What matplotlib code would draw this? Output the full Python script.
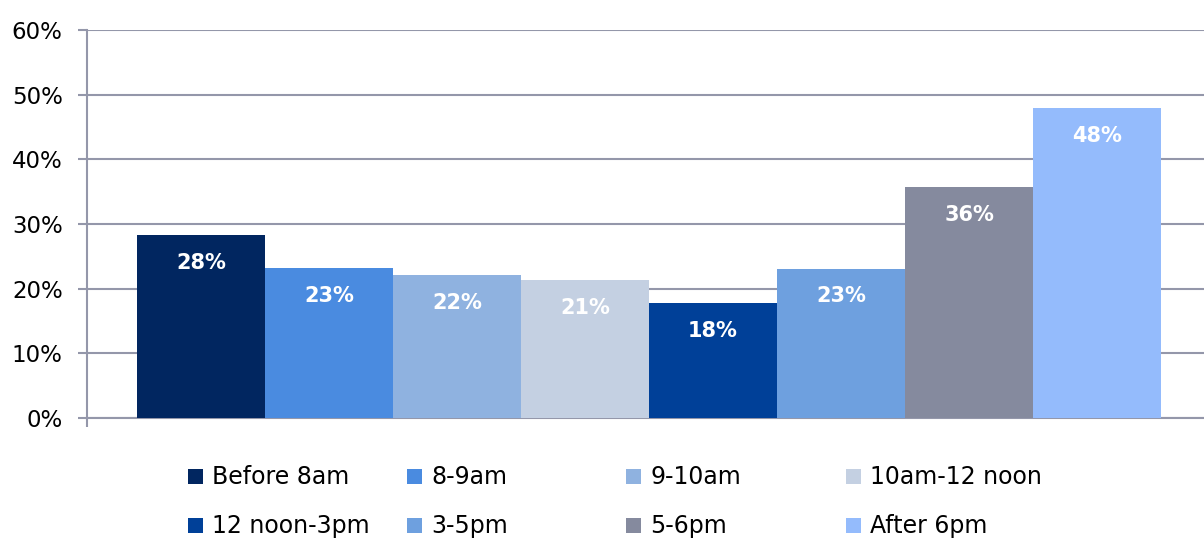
import matplotlib
matplotlib.use("Agg")
import matplotlib.pyplot as plt
from matplotlib.lines import Line2D
import numpy as np

categories = ["Before 8am", "8-9am", "9-10am", "10am-12 noon",
              "12 noon-3pm", "3-5pm", "5-6pm", "After 6pm"]
values = [28.3, 23.2, 22.1, 21.3, 17.8, 23.1, 35.7, 47.9]
labels = ["28%", "23%", "22%", "21%", "18%", "23%", "36%", "48%"]
colors = ["#012660", "#4A8BE0", "#8FB2E0", "#C4D0E2",
          "#004098", "#6EA0DF", "#858A9E", "#94BBFC"]
yticks = [0, 10, 20, 30, 40, 50, 60]
ytick_labels = ["0%", "10%", "20%", "30%", "40%", "50%", "60%"]

plt.rcParams['font.family'] = ['DejaVu Sans']
W, H = 1204, 538
fig = plt.figure(figsize=(W / 100, H / 100), dpi=100)
ax = fig.add_axes([87 / W, 120 / H, (W - 87) / W, 388 / H])

grid_c = "#9497AA"
x = np.arange(len(values)) - 3.5
for xi, v, c, lab, name in zip(x, values, colors, labels, categories):
    ax.bar(xi, v, width=1.0, color=c, zorder=3, label=name, linewidth=0)
    ax.text(xi, v - 4.3, lab, ha="center", va="center", color="white",
            fontsize=15, fontweight="bold", zorder=4)

ax.set_xlim(-4 - 50 / 128, -4 - 50 / 128 + (W - 87) / 128)
ax.set_ylim(0, 60)
ax.set_yticks(yticks)
ax.set_yticklabels(ytick_labels, fontsize=16.5)
ax.yaxis.grid(True, color=grid_c, linewidth=1.5, zorder=0)
ax.tick_params(axis="y", length=6.5, width=1.5, color=grid_c, pad=11)
ax.set_xticks([ax.get_xlim()[0]])
ax.set_xticklabels([""])
ax.tick_params(axis="x", length=6.5, width=1.5, color=grid_c)
for s in ["top", "right"]:
    ax.spines[s].set_visible(False)
ax.spines["left"].set_color(grid_c)
ax.spines["left"].set_linewidth(1.5)
ax.spines["bottom"].set_color(grid_c)
ax.spines["bottom"].set_linewidth(1.5)

col_x = [187, 406, 625, 845]
for ci in range(4):
    idxs = [ci, ci + 4]
    handles = [Line2D([], [], marker="s", linestyle="none", markersize=10.8,
                      markerfacecolor=colors[i], markeredgewidth=0) for i in idxs]
    fig.legend(handles, [categories[i] for i in idxs],
               loc="upper left", bbox_to_anchor=(col_x[ci] / W, 1 - 465 / H),
               frameon=False, fontsize=17, handlelength=0.7,
               handletextpad=0.38, borderpad=0, borderaxespad=0,
               labelspacing=1.05)

fig.savefig("out.png", dpi=100)
